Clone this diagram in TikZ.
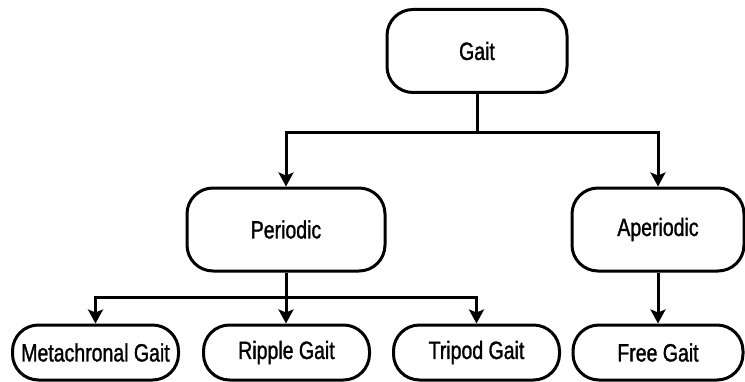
\documentclass[tikz,border=0pt]{standalone}
\usepackage{fontspec}
\setmainfont{Liberation Sans}[FakeStretch=0.78, FakeBold=1.2]
\usetikzlibrary{arrows.meta,positioning,calc}

\begin{document}
\begin{tikzpicture}[
    x=0.5pt, y=0.5pt,
    box/.style={rectangle, draw, line width=1.5pt, rounded corners=13pt,
                font=\fontsize{12.5}{14}\selectfont, align=center, inner sep=0pt},
    bigbox/.style={box, minimum height=41.5pt},
    gaitbox/.style={box, minimum width=83pt, minimum height=27.5pt},
    link/.style={line width=1.5pt},
    arrow/.style={link, -{Stealth[length=7pt, width=7.5pt, inset=1.5pt]}}
]
    \useasboundingbox (0,0) rectangle (745,381);

    % Top level
    \node[bigbox, minimum width=90pt] (gait) at (477,330) {Gait};

    % Second level
    \node[bigbox, minimum width=99pt] (periodic) at (286,151.5) {Periodic};
    \node[bigbox, minimum width=86pt] (aperiodic) at (658,151.5) {Aperiodic};

    % Third level
    \node[gaitbox] (meta) at (95.5,28.5) {Metachronal Gait};
    \node[gaitbox] (ripple) at (286.5,28.5) {Ripple Gait};
    \node[gaitbox] (tripod) at (476.5,28.5) {Tripod Gait};
    \node[gaitbox, minimum width=85pt] (free) at (658,28.5) {Free Gait};

    % Gait split
    \coordinate (gsplit) at (gait.south |- 0,248);
    \draw[link] (gait.south) -- (gsplit);
    \draw[arrow] (gsplit) -| (periodic.north);
    \draw[arrow] (gsplit) -| (aperiodic.north);

    % Periodic split
    \coordinate (psplit) at (periodic.south |- 0,84);
    \draw[link] (periodic.south) -- (psplit);
    \draw[arrow] (psplit) -| (meta.north);
    \draw[arrow] (psplit) -- (ripple.north -| psplit);
    \draw[arrow] (psplit) -| (tripod.north);

    % Aperiodic
    \draw[arrow] (aperiodic.south) -- (free.north);
\end{tikzpicture}
\end{document}
